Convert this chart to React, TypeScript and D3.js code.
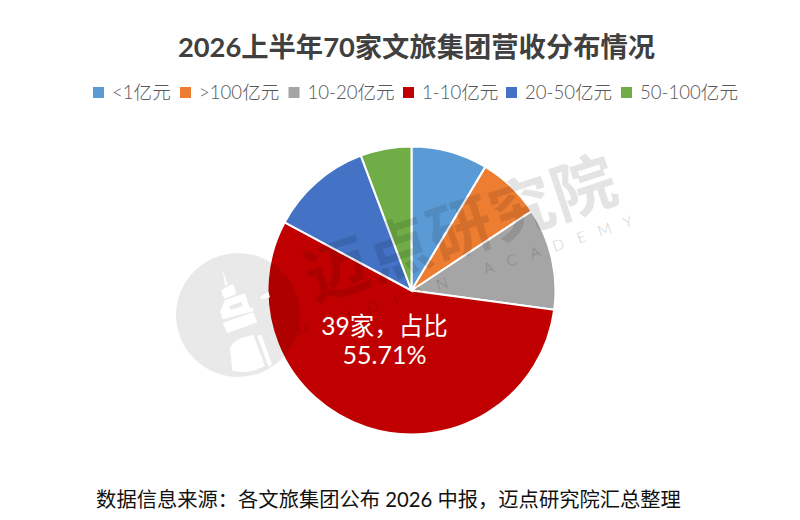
import React from 'react';
import * as d3 from 'd3';

const categories = ['<1亿元', '>100亿元', '10-20亿元', '1-10亿元', '20-50亿元', '50-100亿元'];
const counts = [6, 5, 8, 39, 8, 4];
const colors = ['#5B9BD5', '#ED7D31', '#A5A5A5', '#C00000', '#4472C4', '#70AD47'];
const legendSwatchX = [93, 180, 288.5, 403, 506, 621];
const watermarkChars = ['迈', '点', '研', '究', '院'];
const watermarkLatin = ['M', 'A', 'I', 'D', 'I', 'A', 'N', '', 'A', 'C', 'A', 'D', 'E', 'M', 'Y'];

const fontFamily = 'Lato, "Noto Sans CJK SC", sans-serif';
const width = 800;
const height = 520;
const cx = 411.5;
const cy = 290.5;
const radius = 144;

const pie = d3.pie<number>().value((d) => d).sort(null);
const arc = d3.arc<d3.PieArcDatum<number>>().innerRadius(0).outerRadius(radius);

// logo building, knocked out of the grey disc
const Building = () => (
	<g transform="translate(170,240) scale(0.3333)" fill="#fff">
		<polygon points="158,90 173,135 165,137" />
		<path d="M155 150 L188 131 Q198 145 198 162 L165 176 Q155 165 155 150z" />
		<path
			fillRule="evenodd"
			d="M150 215 L165 180 L225 160 L240 205 L248 203 L252 213 L158 238z M178 198 L182 210 L218 198 L214 186z"
		/>
		<polygon points="158,248 250,217 262,247 172,279" />
		<path d="M180 325 Q190 295 250 285 L285 378 L250 392 Q215 400 187 392z" />
		<polygon points="262,288 275,284 306,374 296,380" />
		<polygon points="270,170 295,155 300,172 274,178" />
	</g>
);

const App: React.FC = () => {
	const arcs = pie(counts);
	return (
		<svg
			width={width}
			height={height}
			viewBox={`0 0 ${width} ${height}`}
			style={{ position: 'absolute', left: 0, top: 0, background: '#fff', fontFamily }}
		>
			<text x={416.5} y={57} textAnchor="middle" fontSize={27.3} fontWeight={700} fill="#404040">
				2026上半年70家文旅集团营收分布情况
			</text>

			{categories.map((c, i) => (
				<g key={c}>
					<rect x={legendSwatchX[i]} y={87} width={11} height={11} fill={colors[i]} />
					<text x={legendSwatchX[i] + 19} y={99} fontSize={18.6} fontWeight={300} fill="#595959">
						{c}
					</text>
				</g>
			))}

			<g transform={`translate(${cx},${cy})`}>
				{arcs.map((d, i) => (
					<path key={categories[i]} d={arc(d) as string} fill={colors[i]} stroke="#fff" strokeWidth={2} />
				))}
			</g>

			<text x={384.5} y={335} textAnchor="middle" fontSize={24.5} fill="#fff">
				{`${counts[3]}家，占比`}
			</text>
			<text x={384.5} y={364} textAnchor="middle" fontSize={25} fill="#fff">
				{`${d3.format('.2f')((counts[3] / d3.sum(counts)) * 100)}%`}
			</text>

			{/* watermark sits on top of the pie */}
			<circle cx={238} cy={315} r={62} fill="#000" opacity={0.085} />
			<Building />
			<g transform="translate(337,270) rotate(-18.4)" fill="#000" opacity={0.1} fontWeight={700} fontSize={64} textAnchor="middle">
				{watermarkChars.map((c, i) => (
					<text key={c} x={i * 65} y={23}>
						{c}
					</text>
				))}
			</g>
			<g transform="translate(628,222) rotate(-18.4)" fill="#000" opacity={0.2} fontWeight={300} fontSize={15} textAnchor="middle">
				{watermarkLatin.map((c, i) => (
					<text key={i} x={(i - 14) * 24.5} y={5}>
						{c}
					</text>
				))}
			</g>

			<text x={388.5} y={507} textAnchor="middle" fontSize={20.3} fill="#111">
				数据信息来源：各文旅集团公布 2026 中报，迈点研究院汇总整理
			</text>
		</svg>
	);
};

export default App;
